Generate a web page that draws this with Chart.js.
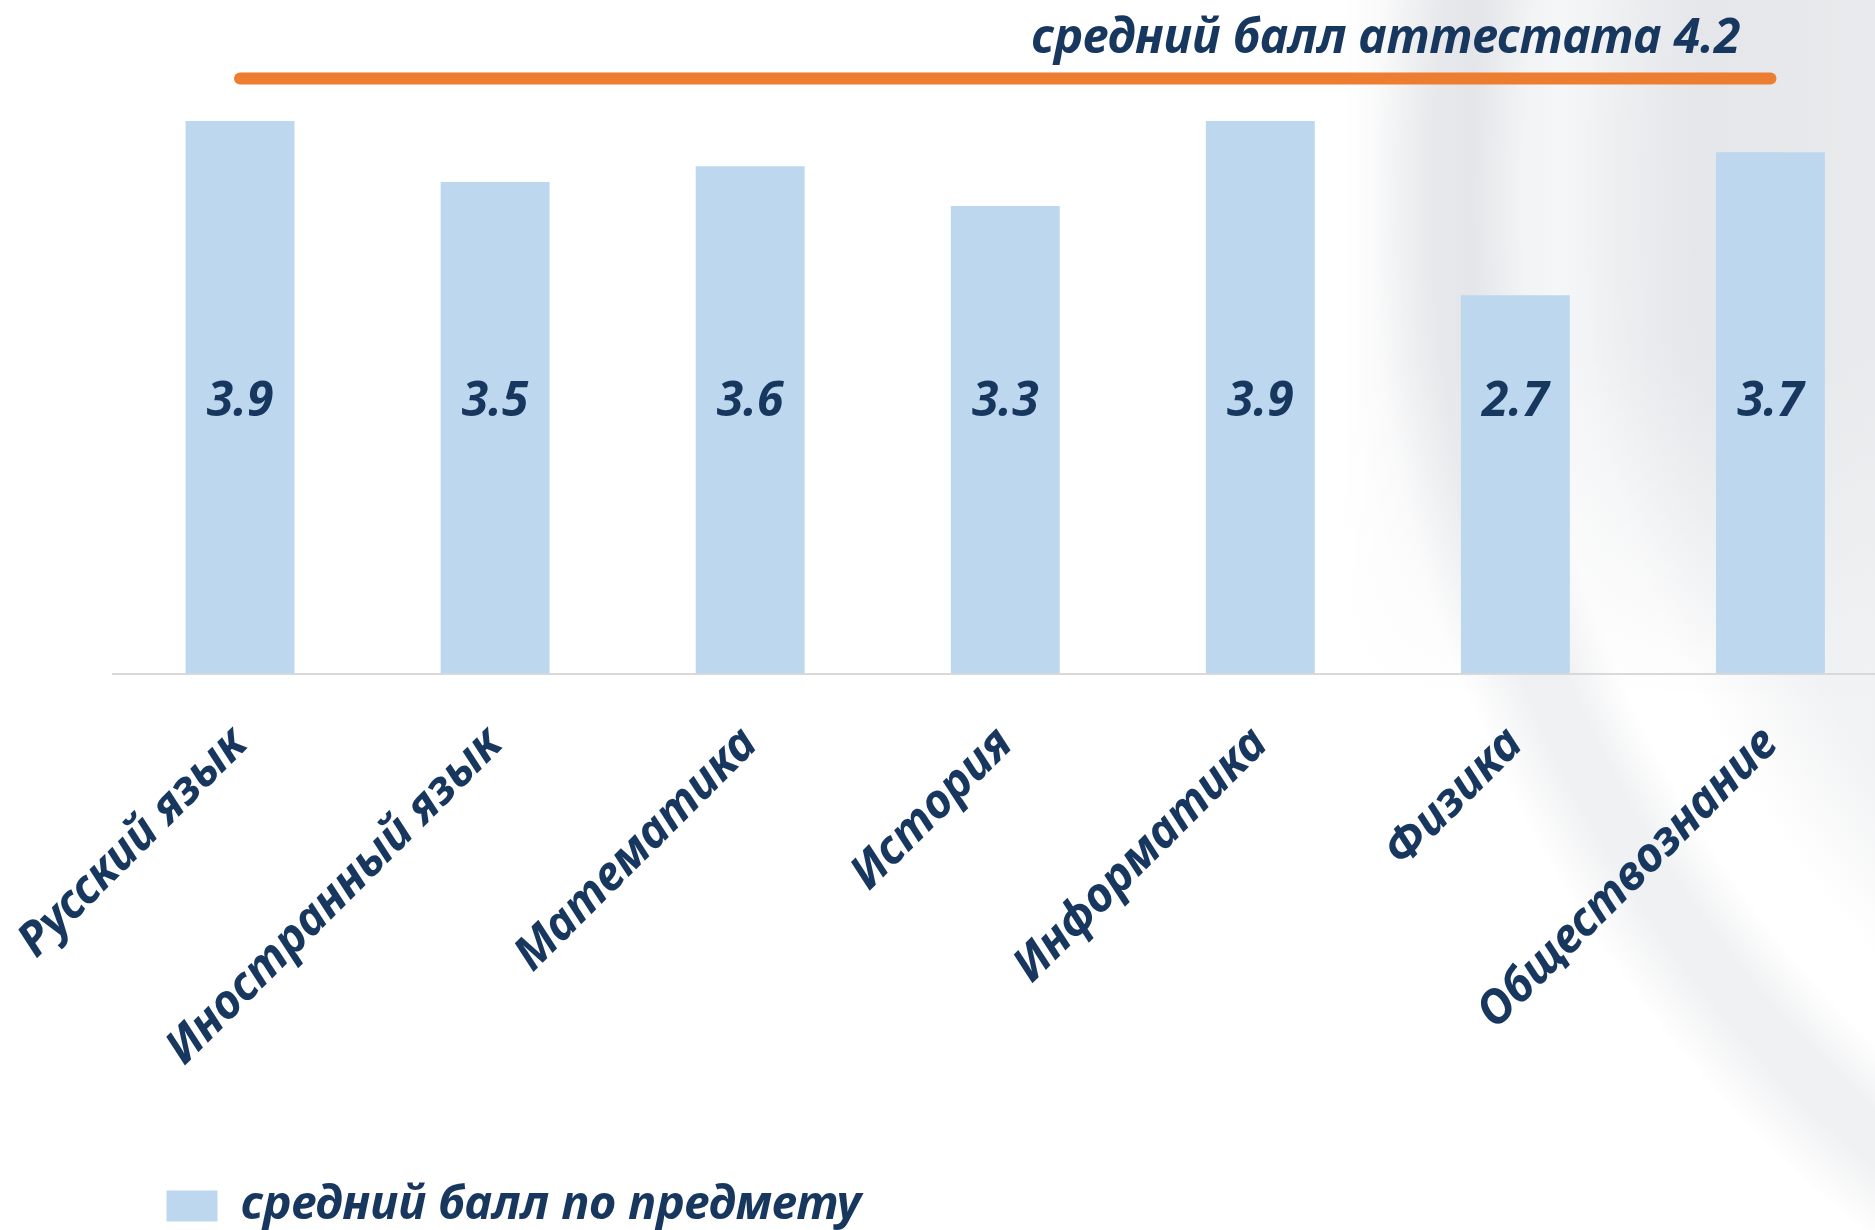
<!DOCTYPE html>
<html lang="ru">
<head>
<meta charset="utf-8">
<title>Средний балл по предметам</title>
<script src="https://cdn.jsdelivr.net/npm/chart.js@4.4.1/dist/chart.umd.min.js"></script>
<style>
  html, body { margin: 0; padding: 0; width: 1875px; height: 1230px; overflow: hidden; background: #fff; }
  /* faint slide backdrop on the right */
  #bg {
    position: absolute; left: 0; top: 0; width: 1875px; height: 1230px;
    background:
      radial-gradient(circle at 2700px 200px, rgba(255,255,255,0) 1180px, rgba(205,208,213,.3) 1230px, rgba(205,208,213,.3) 1270px, rgba(255,255,255,0) 1330px),
      radial-gradient(circle at 2700px 200px, rgba(225,227,230,.45) 0, rgba(225,227,230,.45) 1000px, rgba(255,255,255,0) 1120px),
      linear-gradient(180deg, rgba(255,255,255,0) 0, rgba(255,255,255,0) 350px, #fff 700px),
      linear-gradient(90deg, #fff 0, #fff 1340px, #eeeff1 1470px, #f5f6f7 1560px, #e8e9ec 1700px, #eef0f2 1875px);
  }
  #wrap { position: absolute; left: 0; top: 0; width: 1898px; height: 1245px; }
  canvas { display: block; }
</style>
</head>
<body>
<div id="bg"></div>
<div id="wrap"><canvas id="chart"></canvas></div>
<script>
const subjects = ['Русский язык', 'Иностранный язык', 'Математика', 'История', 'Информатика', 'Физика', 'Обществознание'];
// bar heights; the labels show them rounded to one decimal
const subjectAvg = [3.9, 3.47, 3.58, 3.3, 3.9, 2.67, 3.68];
const certificateAvg = [4.2, 4.2, 4.2, 4.2, 4.2, 4.2, 4.2];
const subjectLabel = 'средний балл по предмету';
const certificateLabel = 'средний балл аттестата 4.2';

const NAVY = '#17375e';
const FONT = '"Noto Sans", "DejaVu Sans", sans-serif';
const LABEL_LEVEL = 1.94; // value-labels sit at about this height inside the bars

// "3.9" etc. inside each bar
const barValueLabels = {
  id: 'barValueLabels',
  afterDatasetsDraw(chart) {
    const { ctx } = chart;
    const meta = chart.getDatasetMeta(0);
    const y = chart.scales.y.getPixelForValue(LABEL_LEVEL) + 17;
    ctx.save();
    ctx.font = `italic bold 48px ${FONT}`;
    ctx.fillStyle = NAVY;
    ctx.textAlign = 'center';
    ctx.textBaseline = 'alphabetic';
    meta.data.forEach((bar, i) => ctx.fillText(subjectAvg[i].toFixed(1), bar.x, y));
    ctx.restore();
  },
};

// caption over the orange certificate line
const certificateCaption = {
  id: 'certificateCaption',
  afterDraw(chart) {
    const { ctx } = chart;
    const x = chart.scales.x.getPixelForValue(subjects.length - 1) - 30;
    const y = chart.scales.y.getPixelForValue(certificateAvg[0]) - 26;
    ctx.save();
    ctx.font = `italic bold 48px ${FONT}`;
    ctx.fillStyle = NAVY;
    ctx.textAlign = 'right';
    ctx.textBaseline = 'alphabetic';
    ctx.fillText(certificateLabel, x, y);
    ctx.restore();
  },
};

new Chart(document.getElementById('chart'), {
  data: {
    labels: subjects,
    datasets: [
      {
        type: 'bar', label: subjectLabel, data: subjectAvg,
        backgroundColor: '#bdd7ee', barPercentage: 0.427, categoryPercentage: 1, order: 2,
      },
      {
        type: 'line', label: certificateLabel, data: certificateAvg,
        borderColor: '#ed7d31', borderWidth: 12, borderCapStyle: 'round',
        pointRadius: 0, fill: false, clip: false, order: 1,
      },
    ],
  },
  options: {
    responsive: true, maintainAspectRatio: false, animation: false,
    layout: { padding: { left: 112.5, right: 0, top: 36, bottom: 5.5 } },
    scales: {
      x: {
        offset: true,
        grid: { display: false, drawTicks: false },
        border: { display: true, color: '#d9d9d9', width: 2 },
        ticks: {
          color: NAVY, autoSkip: false, minRotation: 45, maxRotation: 45, padding: 43,
          font: { family: FONT, size: 47, style: 'italic', weight: 'bold' },
        },
        afterFit(scale) { scale.height = 455; scale.paddingLeft = 0; scale.paddingRight = 0; },
      },
      y: { display: false, min: 0, max: 4.5 },
    },
    plugins: {
      legend: {
        position: 'bottom', align: 'start',
        labels: {
          filter: (item) => item.datasetIndex === 0,
          boxWidth: 51, boxHeight: 31, padding: 54, color: NAVY,
          font: { family: FONT, size: 47, style: 'italic', weight: 'bold' },
        },
      },
      tooltip: { enabled: false },
    },
  },
  plugins: [barValueLabels, certificateCaption],
});
</script>
</body>
</html>
